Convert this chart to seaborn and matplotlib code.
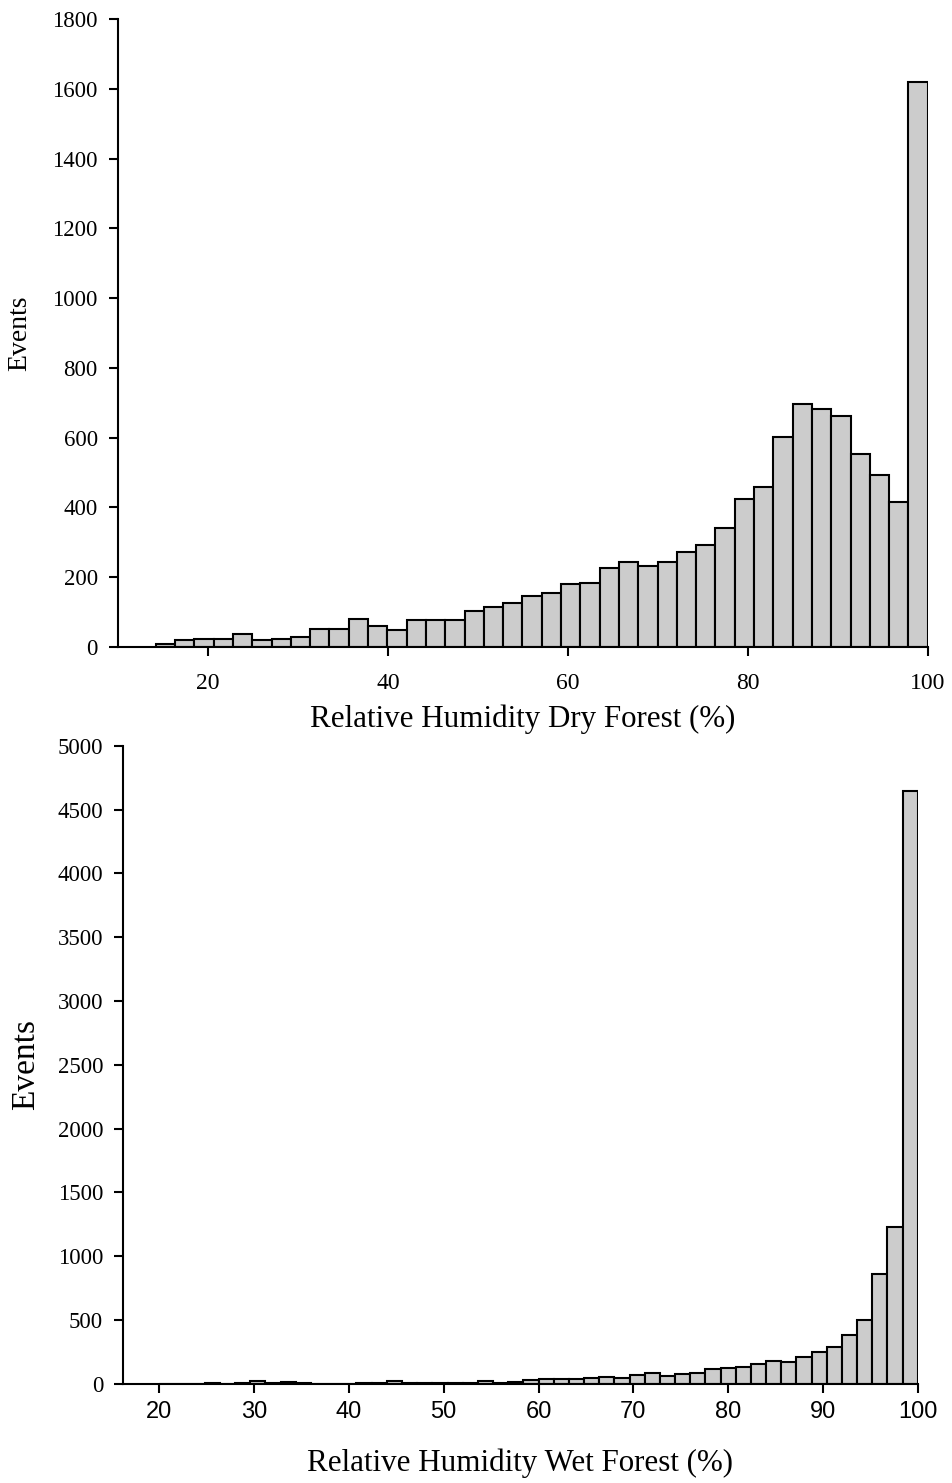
import numpy as np
import pandas as pd
import matplotlib
matplotlib.use("Agg")
import matplotlib.pyplot as plt
import seaborn as sns

# Dry forest: 40 equal bins between the minimum reading and 100 %
dry_edges = np.linspace(14.2, 100.0, 41)
dry_counts = [9, 21, 24, 24, 38, 19, 24, 30, 53, 53,
              80, 59, 49, 77, 77, 77, 102, 115, 125, 147,
              154, 181, 183, 227, 244, 233, 244, 273, 292, 341,
              423, 458, 601, 697, 683, 663, 553, 494, 415, 1618]

# Wet forest: 1.6 %-wide bins from 20 to 100 %
wet_edges = np.linspace(20.0, 100.0, 51)
wet_counts = [0, 0, 0, 8, 0, 6, 20, 3, 12, 6,
              0, 0, 0, 5, 8, 18, 8, 2, 8, 8,
              3, 18, 8, 16, 27, 34, 34, 34, 42, 52,
              42, 65, 81, 63, 73, 81, 115, 122, 128, 154,
              180, 172, 212, 246, 290, 379, 499, 857, 1228, 4650]

dry_ticks = [20, 40, 60, 80, 100]
wet_ticks = [20, 30, 40, 50, 60, 70, 80, 90, 100]

sns.set_theme(style="ticks")
plt.rcParams["font.family"] = ["Liberation Serif", "DejaVu Serif"]
plt.rcParams.update({"text.color": "black", "axes.labelcolor": "black",
                     "xtick.color": "black", "ytick.color": "black",
                     "xtick.labelcolor": "black", "ytick.labelcolor": "black"})

fig = plt.figure(figsize=(9.52, 14.83), dpi=100)
ax1 = fig.add_axes([0.1239, 0.5637, 0.8506, 0.4235])
ax2 = fig.add_axes([0.1295, 0.0670, 0.8345, 0.4300])

bar_kw = dict(color="#cccccc", edgecolor="black", linewidth=1.5, alpha=1.0)


def draw(ax, edges, counts, xlim, ylim, yticks, xticks, xlabel, xfont,
         xsize, xpad, ylab_size):
    centers = (edges[:-1] + edges[1:]) / 2
    df = pd.DataFrame({"rh": centers, "n": np.asarray(counts, dtype=float)})
    sns.histplot(data=df, x="rh", weights="n", bins=list(edges), ax=ax,
                 **bar_kw)
    ax.set_xlim(*xlim)
    ax.set_ylim(*ylim)
    ax.set_xticks(xticks)
    ax.set_yticks(yticks)
    sns.despine(ax=ax)
    for s in ("left", "bottom"):
        ax.spines[s].set_linewidth(1.5)
        ax.spines[s].set_color("black")
    ax.tick_params(axis="both", direction="out", length=6.5, width=1.5,
                   color="black", labelcolor="black")
    ax.tick_params(axis="y", labelsize=16.5, pad=8)
    ax.tick_params(axis="x", pad=xpad)
    for lab in ax.get_xticklabels():
        lab.set_fontfamily(xfont)
        lab.set_fontsize(xsize)
    ax.set_ylabel("Events", fontsize=ylab_size, va="center", color="black")
    ax.set_xlabel(xlabel, fontsize=22.3, va="center", color="black")


draw(ax1, dry_edges, dry_counts, (10, 100), (0, 1800),
     np.arange(0, 1801, 200), dry_ticks,
     "Relative Humidity Dry Forest (%)", "Liberation Serif", 17, 12, 20)
draw(ax2, wet_edges, wet_counts, (16.2, 100), (0, 5000),
     np.arange(0, 5001, 500), wet_ticks,
     "Relative Humidity Wet Forest (%)", "Liberation Sans", 17, 6, 24)

ax1.yaxis.set_label_coords(-0.121, 0.5)
ax1.xaxis.set_label_coords(0.5, -0.1146)
ax2.yaxis.set_label_coords(-0.1225, 0.5)
ax2.xaxis.set_label_coords(0.4994, -0.1243)

fig.savefig("out.png", dpi=100, facecolor="white")
